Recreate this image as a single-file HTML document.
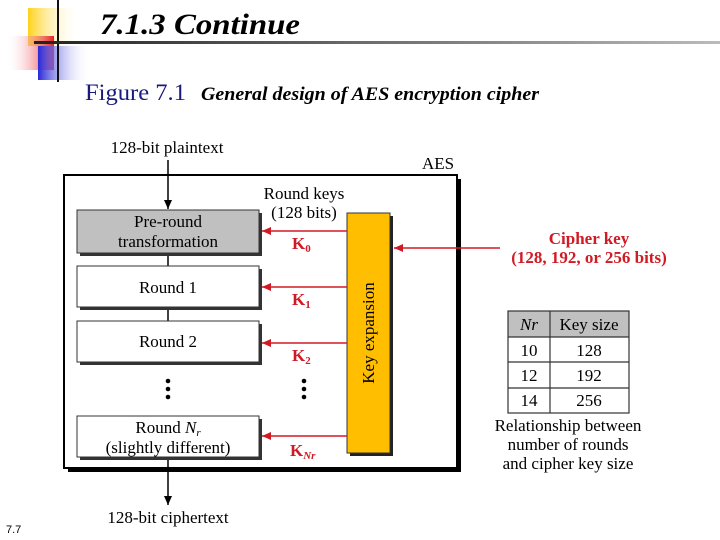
<!DOCTYPE html>
<html><head><meta charset="utf-8"><style>
html,body{margin:0;padding:0;background:#fff;}
svg{display:block;}
</style></head><body>
<svg width="720" height="540" viewBox="0 0 720 540" xmlns="http://www.w3.org/2000/svg" font-family="Liberation Serif, serif">
<defs>
<linearGradient id="gy" x1="0" x2="1"><stop offset="0" stop-color="#ffd21a"/><stop offset="1" stop-color="#fff" stop-opacity="0"/></linearGradient>
<linearGradient id="gr" x1="1" x2="0"><stop offset="0" stop-color="#e8202a"/><stop offset="1" stop-color="#fff" stop-opacity="0"/></linearGradient>
<linearGradient id="gb" x1="0" x2="1"><stop offset="0" stop-color="#2828d8"/><stop offset="1" stop-color="#fff" stop-opacity="0"/></linearGradient>
<linearGradient id="gl" x1="0" x2="1"><stop offset="0" stop-color="#222"/><stop offset="1" stop-color="#bbb"/></linearGradient>
<marker id="ab" markerWidth="10" markerHeight="10" refX="9" refY="5" orient="auto" markerUnits="userSpaceOnUse"><path d="M0,1 L9,5 L0,9 Z" fill="#000"/></marker>
<marker id="ar" markerWidth="10" markerHeight="10" refX="9" refY="5" orient="auto" markerUnits="userSpaceOnUse"><path d="M0,1 L9,5 L0,9 Z" fill="#d01a24"/></marker>
</defs>
<rect x="28" y="8" width="52" height="38" fill="url(#gy)"/>
<rect x="6" y="36" width="48" height="34" fill="url(#gr)"/>
<rect x="38" y="46" width="52" height="34" fill="url(#gb)"/>
<line x1="58" y1="0" x2="58" y2="82" stroke="#111" stroke-width="2"/>
<rect x="34" y="41" width="686" height="3" fill="url(#gl)"/>
<text x="100" y="34" font-size="30" font-style="italic" font-weight="bold" textLength="200" lengthAdjust="spacingAndGlyphs">7.1.3  Continue</text>
<text x="85" y="100" font-size="23" fill="#1a1a7a" textLength="101" lengthAdjust="spacingAndGlyphs">Figure 7.1</text>
<text x="201" y="100" font-size="19" font-style="italic" font-weight="bold" textLength="338" lengthAdjust="spacingAndGlyphs">General design of AES encryption cipher</text>
<rect x="68" y="179" width="393" height="293" fill="#000"/>
<rect x="64" y="175" width="393" height="293" fill="#fff" stroke="#000" stroke-width="2"/>
<g font-size="17">
<text x="167" y="153" text-anchor="middle">128-bit plaintext</text>
<text x="438" y="169" text-anchor="middle">AES</text>
<text x="168" y="523" text-anchor="middle">128-bit ciphertext</text>
</g>
<line x1="168" y1="160" x2="168" y2="209" stroke="#000" stroke-width="1.5" marker-end="url(#ab)"/>
<line x1="168" y1="253" x2="168" y2="266" stroke="#000" stroke-width="1.5"/>
<line x1="168" y1="307" x2="168" y2="321" stroke="#000" stroke-width="1.5"/>
<line x1="168" y1="457" x2="168" y2="505" stroke="#000" stroke-width="1.5" marker-end="url(#ab)"/>
<rect x="80" y="213" width="182" height="43" fill="#333"/>
<rect x="77" y="210" width="182" height="43" fill="#c0c0c0" stroke="#333"/>
<g font-size="17" text-anchor="middle">
<text x="168" y="227">Pre-round</text>
<text x="168" y="247">transformation</text>
</g>
<rect x="80" y="269" width="182" height="41" fill="#333"/>
<rect x="77" y="266" width="182" height="41" fill="#fff" stroke="#333"/>
<text x="168" y="293" font-size="17" text-anchor="middle">Round 1</text>
<rect x="80" y="324" width="182" height="41" fill="#333"/>
<rect x="77" y="321" width="182" height="41" fill="#fff" stroke="#333"/>
<text x="168" y="347" font-size="17" text-anchor="middle">Round 2</text>
<rect x="80" y="419" width="182" height="41" fill="#333"/>
<rect x="77" y="416" width="182" height="41" fill="#fff" stroke="#333"/>
<text x="168" y="433" font-size="17" text-anchor="middle">Round <tspan font-style="italic">N</tspan><tspan font-style="italic" font-size="11" dy="3">r</tspan></text>
<text x="168" y="453" font-size="17" text-anchor="middle">(slightly different)</text>
<g fill="#000"><circle cx="168" cy="381" r="2.3"/><circle cx="168" cy="389" r="2.3"/><circle cx="168" cy="397" r="2.3"/>
<circle cx="304" cy="381" r="2.3"/><circle cx="304" cy="389" r="2.3"/><circle cx="304" cy="397" r="2.3"/></g>
<rect x="350" y="216" width="43" height="240" fill="#222"/>
<rect x="347" y="213" width="43" height="240" fill="#ffbf00" stroke="#333"/>
<text transform="translate(374,333) rotate(-90)" font-size="17" text-anchor="middle">Key expansion</text>
<text x="304" y="199" font-size="17" text-anchor="middle">Round keys</text>
<text x="304" y="218" font-size="17" text-anchor="middle">(128 bits)</text>
<g stroke="#d01a24" stroke-width="1.5">
<line x1="347" y1="231" x2="262" y2="231" marker-end="url(#ar)"/>
<line x1="347" y1="287" x2="262" y2="287" marker-end="url(#ar)"/>
<line x1="347" y1="343" x2="262" y2="343" marker-end="url(#ar)"/>
<line x1="347" y1="436" x2="262" y2="436" marker-end="url(#ar)"/>
<line x1="500" y1="248" x2="394" y2="248" marker-end="url(#ar)"/>
</g>
<g fill="#d01a24" font-weight="bold" font-size="17">
<text x="292" y="249">K<tspan font-size="11" dy="3">0</tspan></text>
<text x="292" y="305">K<tspan font-size="11" dy="3">1</tspan></text>
<text x="292" y="361">K<tspan font-size="11" dy="3">2</tspan></text>
<text x="290" y="456">K<tspan font-size="11" dy="3" font-style="italic">Nr</tspan></text>
<text x="589" y="244" text-anchor="middle">Cipher key</text>
<text x="589" y="263" text-anchor="middle">(128, 192, or 256 bits)</text>
</g>
<rect x="508" y="311" width="121" height="26" fill="#c0c0c0"/>
<g stroke="#333" stroke-width="1.2" fill="none">
<rect x="508" y="311" width="121" height="102"/>
<line x1="508" y1="337" x2="629" y2="337"/>
<line x1="508" y1="362" x2="629" y2="362"/>
<line x1="508" y1="388" x2="629" y2="388"/>
<line x1="550" y1="311" x2="550" y2="413"/>
</g>
<g font-size="17" text-anchor="middle">
<text x="529" y="330" font-style="italic">Nr</text><text x="589" y="330">Key size</text>
<text x="529" y="356">10</text><text x="589" y="356">128</text>
<text x="529" y="381">12</text><text x="589" y="381">192</text>
<text x="529" y="406">14</text><text x="589" y="406">256</text>
<text x="568" y="431">Relationship between</text>
<text x="568" y="450">number of rounds</text>
<text x="568" y="469">and cipher key size</text>
</g>
<text x="6" y="533" font-size="11" font-family="Liberation Sans, sans-serif">7.7</text>
</svg>
</body></html>
